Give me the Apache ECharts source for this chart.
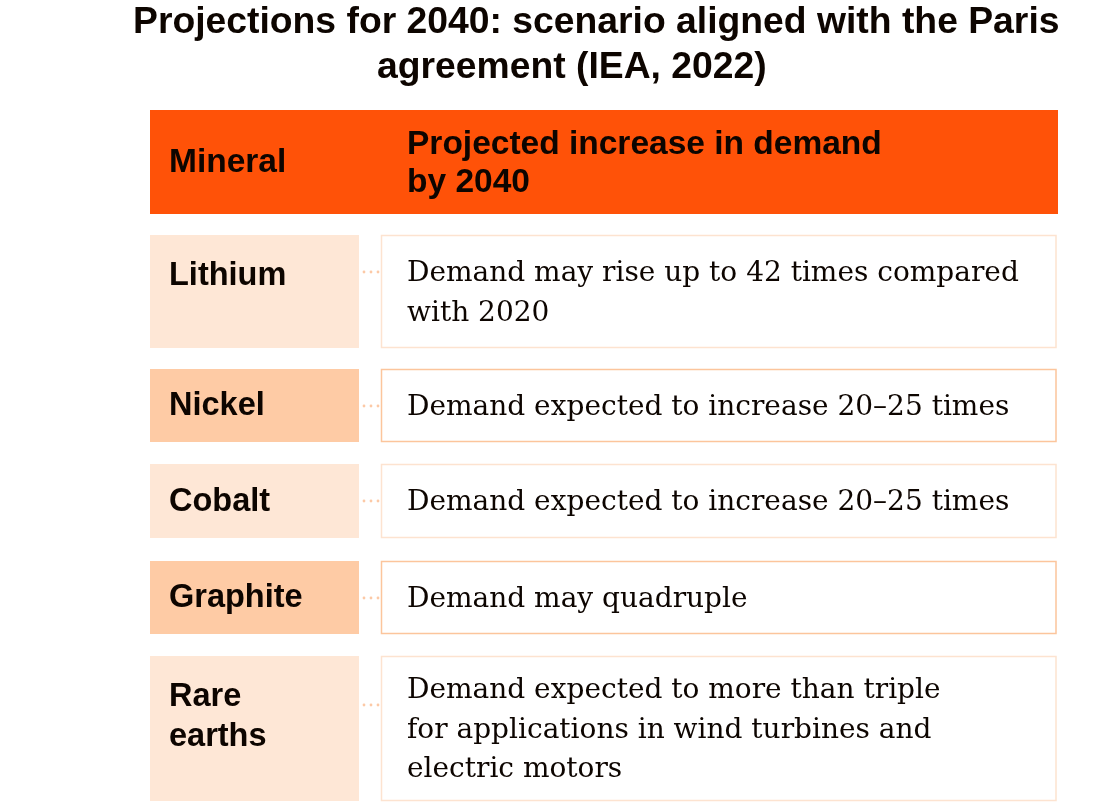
<!DOCTYPE html>
<html>
<head>
    <meta charset="utf-8">
    <title>Projections for 2040</title>
    <style type="text/css">
        html, body { margin: 0; padding: 0; background: #FFFFFF; }
        #main { width: 1104px; height: 802px; }
    </style>
</head>
<body>
    <div id="main"></div>
</body>
<script src="https://cdn.jsdelivr.net/npm/echarts@6/dist/echarts.min.js"></script>
<script type="text/javascript">
    // table content
    var titleLines = ['Projections for 2040: scenario aligned with the Paris', 'agreement (IEA, 2022)'];
    var headers = ['Mineral', 'Projected increase in demand\nby 2040'];
    var minerals = ['Lithium', 'Nickel', 'Cobalt', 'Graphite', 'Rare\nearths'];
    var demand = [
        'Demand may rise up to 42 times compared\nwith 2020',
        'Demand expected to increase 20\u201325 times',
        'Demand expected to increase 20\u201325 times',
        'Demand may quadruple',
        'Demand expected to more than triple\nfor applications in wind turbines and\nelectric motors'
    ];
    var tones = ['light', 'dark', 'light', 'dark', 'light'];

    // layout
    var rowTop = [235, 369, 464, 561, 656];
    var rowBottom = [348, 442, 538, 634, 801];
    var leftX = 150, leftW = 209;
    var rightX = 381.5, rightW = 674.5;

    var fill = { light: '#FEE7D6', dark: '#FECBA5' };
    var stroke = { light: '#FDE3D0', dark: '#FCC59C' };
    var sans = 'Liberation Sans, Arial, sans-serif';
    var serif = 'DejaVu Serif, serif';

    function txt(text, x, y, size, weight, family, align, vAlign, lh) {
        return {
            type: 'text',
            style: {
                text: text, x: x, y: y,
                fontSize: size, fontWeight: weight, fontFamily: family,
                fill: '#0D0500',
                align: align, verticalAlign: vAlign,
                textAlign: align, textVerticalAlign: vAlign,
                lineHeight: lh
            }
        };
    }

    function buildElements() {
        var els = [];
        els.push(txt(titleLines[0], 133, 23, 37.3, 'bold', sans, 'left', 'middle', 44));
        els.push(txt(titleLines[1], 377, 68, 37.3, 'bold', sans, 'left', 'middle', 44));

        els.push({ type: 'rect', shape: { x: 150, y: 110, width: 908, height: 104 }, style: { fill: '#FF5208' } });
        els.push(txt(headers[0], 169, 163, 33.5, 'bold', sans, 'left', 'middle', 38));
        els.push(txt(headers[1], 407, 164, 33.5, 'bold', sans, 'left', 'middle', 38));

        for (var i = 0; i < minerals.length; i++) {
            var y0 = rowTop[i], h = rowBottom[i] - rowTop[i];
            var lines = demand[i].split('\n').length;
            var t = tones[i];
            els.push({ type: 'rect', shape: { x: leftX, y: y0, width: leftW, height: h }, style: { fill: fill[t] } });
            els.push({ type: 'rect', shape: { x: rightX, y: y0 + 0.5, width: rightW, height: h - 1 },
                style: { fill: '#FFFFFF', stroke: stroke[t], lineWidth: 1.5 } });
            var labelY = lines > 1 ? y0 + 21 : y0 + h / 2 + 1;
            els.push(txt(minerals[i], 169, labelY, 32.5, 'bold', sans, 'left', lines > 1 ? 'top' : 'middle', 40));
            els.push(txt(demand[i], 407, y0 + h / 2 + 2, 28, 'normal', serif, 'left', 'middle', 39.5));
            var dotY = y0 + (lines > 2 ? 49 : 37);
            for (var d = 0; d < 3; d++) {
                els.push({ type: 'circle', shape: { cx: 364 + d * 7, cy: dotY, r: 1.4 }, style: { fill: '#FCC9A6' } });
            }
        }
        return els;
    }

    var myChart = echarts.init(document.getElementById('main'));
    myChart.setOption({
        backgroundColor: '#FFFFFF',
        animation: false,
        graphic: { elements: buildElements() }
    });
</script>
</html>
